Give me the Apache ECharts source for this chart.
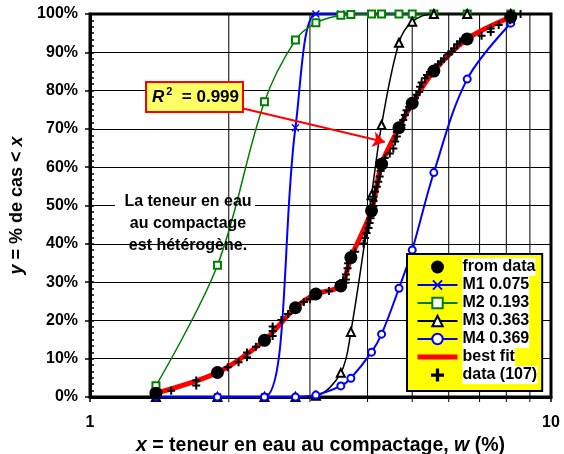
<!DOCTYPE html>
<html><head><meta charset="utf-8">
<script src="https://cdn.jsdelivr.net/npm/echarts@6/dist/echarts.min.js"></script>
<style>html,body{margin:0;padding:0;background:#fff}#c{width:564px;height:454px}</style>
</head><body><div id="c"></div>
<script>
// ---- data ----
const xValues = [1.39, 1.89, 2.39, 2.79, 3.09, 3.50, 3.68, 4.08, 4.29, 4.68, 5.00, 5.57, 6.58, 8.18];
const fromData = [1.0, 6.4, 14.8, 23.3, 26.9, 29.0, 36.4, 48.6, 60.8, 70.3, 76.7, 85.1, 93.5, 99.2];
const bestFit  = [1.0, 6.4, 14.8, 23.3, 26.9, 29.0, 36.4, 48.6, 60.8, 70.3, 76.7, 85.1, 93.5, 99.2];
const m1 = [0, 0, 0, 70.3, 100, 100, 100, 100, 100, 100, 100, null, null, null];
const m2 = [2.95, 34.4, 77.1, 93.2, 97.7, 99.7, 99.9, 100, 100, 100, 100, 100, 100, 100];
const m3 = [0, 0, 0, 0, 0.3, 6.3, 17.0, 52.7, 71.0, 92.5, 98.0, 100, 100, 100];
const m4 = [0, 0, 0, 0, 0.5, 2.9, 4.9, 11.7, 16.4, 28.4, 38.4, 58.6, 83.0, 97.6];
const crossX = [1.50, 1.70, 1.70, 1.99, 2.10, 2.19, 2.19, 2.29, 2.49, 2.49, 2.49, 2.60, 2.69, 2.91, 3.00, 3.30,
  3.54, 3.58, 3.59, 3.59, 3.62, 3.63, 3.66, 3.68, 3.76, 3.92, 3.95, 3.98, 4.02, 4.04, 4.06, 4.12, 4.12, 4.12,
  4.15, 4.19, 4.22, 4.25, 4.27, 4.32, 4.36, 4.47, 4.55, 4.59, 4.63, 4.63, 4.74, 4.78, 4.82, 4.86, 4.93, 5.07,
  5.11, 5.18, 5.20, 5.24, 5.33, 5.38, 5.69, 5.77, 5.86, 5.99, 6.09, 6.16, 6.26, 6.35, 7.07, 7.40, 7.40, 7.70,
  8.15, 8.59];
const crossY = [1.6, 4.3, 3.0, 7.8, 9.1, 11.6, 10.4, 13.1, 18.4, 17.2, 15.9, 20.1, 21.7, 24.8, 25.5, 27.7,
  30.5, 29.8, 30.7, 32.0, 33.6, 34.9, 36.0, 37.5, 37.9, 40.1, 41.5, 42.8, 44.1, 45.4, 46.7, 49.9, 51.2, 52.3,
  53.6, 54.9, 56.2, 57.6, 59.0, 61.4, 62.4, 63.6, 64.9, 66.7, 68.0, 69.2, 71.0, 72.3, 73.6, 74.9, 75.8, 78.0,
  78.9, 79.7, 81.0, 82.1, 83.2, 84.1, 86.9, 87.6, 88.4, 89.5, 90.2, 91.0, 92.1, 92.8, 94.3, 96.2, 95.3, 97.1,
  98.4, 100];
const gridX = [2, 3, 4, 5, 6, 7, 8, 9];
const arrowFrom = [2.137, 75.4];
const arrowTo = [4.36, 66.6];
const names = ['from data', 'M1 0.075', 'M2 0.193', 'M3 0.363', 'M4 0.369', 'best fit', 'data (107)'];

const FF = 'Arial, "Liberation Sans", sans-serif';
const pair = arr => xValues.map((x, i) => [x, arr[i]]);
const PLUS = 'path://M3,0H5V3H8V5H5V8H3V5H0V3H3Z';
const XMARK = 'path://M0,1L1,0L4,3L7,0L8,1L5,4L8,7L7,8L4,5L1,8L0,7L3,4Z';

const chart = echarts.init(document.getElementById('c'), null, {renderer: 'canvas'});
chart.setOption({
  animation: false,
  backgroundColor: '#fff',
  grid: {left: 90, right: 13, top: 14, bottom: 57, show: true, borderColor: '#000', borderWidth: 3,
    containLabel: false, outerBoundsMode: 'none'},
  xAxis: {
    type: 'log', logBase: 10, min: 1, max: 10,
    axisLine: {lineStyle: {color: '#000', width: 3}},
    axisTick: {show: true, length: 5, lineStyle: {color: '#000', width: 1.5}},
    axisLabel: {fontFamily: FF, fontSize: 16, fontWeight: 'bold', color: '#000', margin: 18},
    splitLine: {show: false},
    name: '{i|x} = teneur en eau au compactage, {i|w} (%)',
    nameLocation: 'middle', nameGap: 31,
    nameTextStyle: {fontFamily: FF, fontSize: 19.5, fontWeight: 'bold', color: '#000',
      rich: {i: {fontFamily: FF, fontSize: 19.5, fontWeight: 'bold', fontStyle: 'italic', color: '#000'}}}
  },
  yAxis: [{
    type: 'value', min: 0, max: 100, interval: 10, position: 'left',
    axisLine: {show: true, lineStyle: {color: '#000', width: 3}},
    axisTick: {show: true, length: 5, lineStyle: {color: '#000', width: 1.5}},
    axisLabel: {formatter: '{value}%', fontFamily: FF, fontSize: 16, fontWeight: 'bold', color: '#000', margin: 12},
    splitLine: {show: true, lineStyle: {color: '#000', width: 1}},
    name: '{i|y} = % de cas < {i|x}',
    nameLocation: 'middle', nameGap: 45,
    nameTextStyle: {fontFamily: FF, fontSize: 18, fontWeight: 'bold', color: '#000',
      rich: {i: {fontFamily: FF, fontSize: 18, fontWeight: 'bold', fontStyle: 'italic', color: '#000'}}}
  }, {
    type: 'value', min: 0, max: 100, interval: 10, position: 'left',
    axisLine: {show: false},
    axisTick: {show: true, inside: true, length: 4, lineStyle: {color: '#000', width: 1.5}},
    minorTick: {show: true, splitNumber: 6, length: 4, lineStyle: {color: '#000', width: 1.5}},
    axisLabel: {show: false},
    splitLine: {show: false}
  }],
  legend: {
    orient: 'vertical', left: 407, top: 254,
    data: names.map(n => n === 'best fit'
      ? {name: n, itemStyle: {opacity: 0}, lineStyle: {color: '#ff0000', width: 5}} : n),
    selectedMode: false,
    itemWidth: 40, itemHeight: 13, itemGap: 0,
    padding: [4, 5, 7, 8],
    backgroundColor: '#ffff00', borderColor: '#000', borderWidth: 2,
    textStyle: {fontFamily: FF, fontSize: 16, fontWeight: 'bold', color: '#000', lineHeight: 18, backgroundColor: '#fff'}
  },
  graphic: [
    {type: 'rect', z: 1, shape: {x: 115, y: 186, width: 140, height: 52}, style: {fill: '#fff'}},
    {type: 'text', z: 50, x: 188, y: 224,
      style: {text: 'La teneur en eau\nau compactage\nest hétérogène.', align: 'center', verticalAlign: 'middle',
        font: 'bold 16px ' + FF, lineHeight: 22, fill: '#000'}},
    {type: 'rect', z: 50, shape: {x: 146, y: 82, width: 97, height: 30}, style: {fill: '#ffff66', stroke: '#ff0000', lineWidth: 2}},
    {type: 'text', z: 51, x: 152, y: 97,
      style: {text: '{r|R}{s|2}{n|  = 0.999}', verticalAlign: 'middle', align: 'left',
        rich: {
          r: {fontFamily: FF, fontSize: 17, fontWeight: 'bold', fontStyle: 'italic', fill: '#000', lineHeight: 22},
          s: {fontFamily: FF, fontSize: 11, fontWeight: 'bold', fill: '#000', verticalAlign: 'top', lineHeight: 22, padding: [0, 0, 0, 2]},
          n: {fontFamily: FF, fontSize: 17, fontWeight: 'bold', fill: '#000', lineHeight: 22}
        }}}
  ],
  series: [
    {
      name: 'grid', type: 'custom', z: 1, clip: false, silent: true,
      data: gridX.map(v => [v, 0]),
      renderItem: (params, api) => {
        const b = api.coord([api.value(0), 0]);
        const t = api.coord([api.value(0), 100]);
        return {type: 'line', shape: {x1: b[0], y1: b[1] + 5, x2: t[0], y2: t[1]}, style: {stroke: '#000', lineWidth: 1}};
      }
    },
    {
      name: 'best fit', type: 'line', z: 2, clip: false, data: pair(bestFit),
      smooth: 0.3, symbol: 'none', lineStyle: {color: '#ff0000', width: 5}, itemStyle: {color: '#ff0000'},
      markLine: {
        silent: true, symbol: ['none', 'arrow'], symbolSize: 12,
        label: {show: false},
        lineStyle: {color: '#ff0000', width: 2, type: 'solid'},
        data: [[{coord: arrowFrom}, {coord: arrowTo}]]
      }
    },
    {
      name: 'M1 0.075', type: 'line', z: 3, clip: false, data: pair(m1), smooth: 0.35,
      symbol: XMARK, symbolSize: 8, lineStyle: {color: '#0000ff', width: 2}, itemStyle: {color: '#0000ff'}
    },
    {
      name: 'M2 0.193', type: 'line', z: 3, clip: false, data: pair(m2), smooth: 0.35,
      symbol: 'emptyRect', symbolSize: 7, lineStyle: {color: '#008000', width: 1.5}, itemStyle: {color: '#008000', borderWidth: 1.5}
    },
    {
      name: 'M3 0.363', type: 'line', z: 3, clip: false, data: pair(m3), smooth: 0.35,
      symbol: 'emptyTriangle', symbolSize: 8, lineStyle: {color: '#000', width: 1.5}, itemStyle: {color: '#000', borderWidth: 1.5}
    },
    {
      name: 'M4 0.369', type: 'line', z: 3, clip: false, data: pair(m4), smooth: 0.35,
      symbol: 'emptyCircle', symbolSize: 7, lineStyle: {color: '#0000ff', width: 2}, itemStyle: {color: '#0000ff', borderWidth: 1.5}
    },
    {
      name: 'data (107)', type: 'scatter', z: 4, clip: false, data: crossX.map((x, i) => [x, crossY[i]]),
      symbol: PLUS, symbolSize: 8, itemStyle: {color: '#000', opacity: 1}
    },
    {
      name: 'from data', type: 'scatter', z: 5, clip: false, data: pair(fromData),
      symbol: 'circle', symbolSize: 13, itemStyle: {color: '#000', opacity: 1}
    }
  ]
});
</script></body></html>
